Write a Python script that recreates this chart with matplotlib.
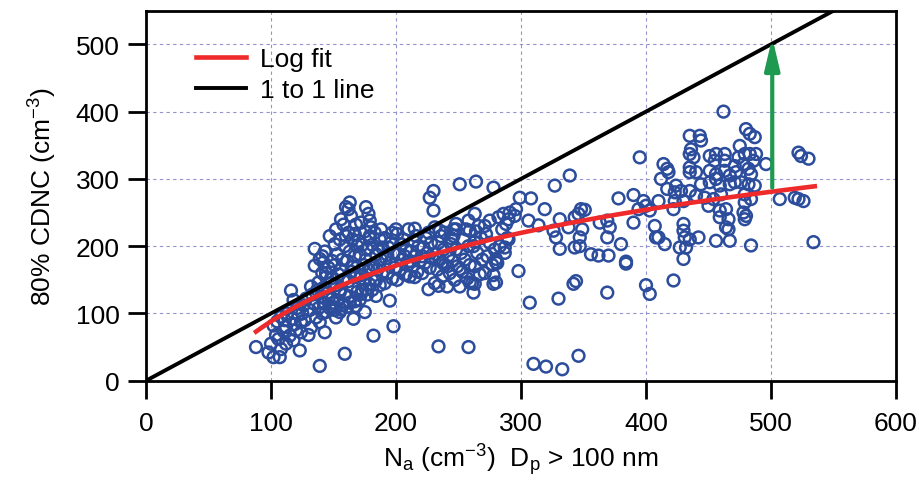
import numpy as np
import matplotlib
matplotlib.use("Agg")
import matplotlib.pyplot as plt

plt.rcParams['font.family'] = ['Liberation Sans', 'DejaVu Sans']
plt.rcParams['mathtext.fontset'] = 'custom'
plt.rcParams['mathtext.rm'] = 'Liberation Sans'
plt.rcParams['mathtext.it'] = 'Liberation Sans:italic'

# ---- data: (Na, CDNC) pairs, grouped by region ----
pts_low = [(88, 50), (98, 42), (102, 35), (107, 35), (108, 47), (112, 55), (123, 45), (139, 22),
           (159, 40), (143, 72), (166, 92), (182, 67), (198, 81), (234, 51), (195, 119), (116, 134),
           (135, 196), (102, 82), (110, 74), (115, 67), (106, 62), (119, 84), (124, 87), (124, 72),
           (132, 79), (139, 87), (136, 94), (142, 116), (150, 116), (155, 131), (144, 102), (152, 94),
           (156, 106), (155, 102), (163, 116), (168, 111), (175, 102), (172, 129), (167, 154),
           (138, 146), (144, 154), (135, 171), (142, 176), (180, 168), (176, 136), (184, 149),
           (184, 126), (100, 55), (104, 68), (105, 88), (108, 95), (112, 80), (113, 100), (117, 92),
           (118, 60), (121, 108), (122, 98), (126, 112), (127, 90), (128, 122), (130, 68), (131, 105),
           (133, 128), (134, 115), (137, 135), (138, 108), (140, 125), (141, 160), (143, 138),
           (146, 122), (148, 145), (149, 110), (118, 120), (125, 100), (132, 140), (111, 90), (120, 75)]

pts_upper = [(163, 265), (160, 258), (162, 255), (176, 258), (156, 240), (179, 238), (180, 228),
             (147, 215), (139, 181), (151, 203), (160, 215), (167, 218), (170, 208), (179, 215)]

pts_core_a = [(141, 100), (147, 108), (143, 115), (149, 122), (145, 130), (142, 138), (148, 152),
              (144, 160), (146, 168), (141, 185), (149, 178), (143, 192),
              (151, 105), (157, 112), (153, 120), (159, 128), (155, 135), (152, 142), (158, 150),
              (154, 158), (156, 165), (151, 172), (157, 180), (153, 188), (159, 200), (155, 210),
              (152, 225), (158, 232),
              (161, 110), (167, 118), (163, 125), (169, 132), (165, 140), (162, 148), (168, 155),
              (164, 162), (166, 170), (161, 178), (167, 185), (163, 192), (169, 200), (165, 210),
              (162, 220), (168, 232), (164, 245),
              (171, 120), (177, 128), (173, 135), (179, 143), (175, 150), (172, 157), (178, 165),
              (174, 172), (176, 180), (171, 188), (177, 195), (173, 202), (179, 212), (175, 222),
              (172, 235), (178, 248)]

pts_core_b = [(181, 135), (187, 142), (183, 150), (189, 158), (185, 165), (182, 172), (188, 180),
              (184, 188), (186, 195), (181, 202), (187, 210), (183, 220), (189, 198),
              (191, 145), (197, 152), (193, 160), (199, 168), (195, 175), (192, 182), (198, 190),
              (194, 198), (196, 205), (191, 212), (197, 220), (193, 187),
              (201, 150), (207, 158), (203, 165), (209, 172), (205, 180), (202, 188), (208, 195),
              (204, 203), (206, 210), (201, 218), (207, 185),
              (211, 155), (217, 162), (213, 170), (219, 178), (215, 185), (212, 192), (218, 200),
              (214, 208), (216, 215), (211, 178),
              (221, 160), (227, 168), (223, 175), (229, 182), (225, 190), (222, 198), (228, 205),
              (224, 212), (226, 220), (221, 185)]

pts_core_c = [(231, 145), (237, 155), (233, 165), (239, 172), (235, 180), (232, 188), (238, 195),
              (234, 205), (236, 215), (231, 228), (237, 176),
              (241, 140), (247, 150), (243, 160), (249, 170), (245, 178), (242, 186), (248, 195),
              (244, 212), (246, 225), (241, 170),
              (251, 140), (257, 152), (253, 162), (259, 172), (255, 180), (252, 190), (258, 200),
              (254, 210), (256, 225), (251, 166),
              (261, 145), (267, 158), (263, 170), (269, 180), (265, 190), (262, 200), (268, 212),
              (264, 222),
              (271, 160), (277, 172), (273, 185), (279, 195), (275, 205), (272, 218),
              (281, 175), (287, 190), (283, 200), (289, 212), (285, 225)]

pts_mid = [(251, 292), (264, 296), (278, 287), (230, 282), (227, 272), (230, 253), (200, 225),
           (188, 225), (210, 225), (215, 226), (239, 220), (248, 233), (248, 225), (258, 238),
           (263, 248), (266, 230), (275, 238), (282, 243), (286, 248), (291, 250), (288, 233),
           (287, 198), (280, 181), (271, 230), (259, 223), (246, 215), (235, 223), (263, 206),
           (244, 203), (226, 136), (234, 141), (262, 131), (263, 144), (278, 144), (280, 176),
           (215, 154), (208, 158), (259, 146), (280, 146), (278, 157), (298, 163), (258, 50)]

pts_right = [(395, 332), (339, 305), (327, 290), (308, 271), (299, 272), (319, 255), (296, 255),
             (290, 240), (306, 238), (314, 231), (331, 240), (326, 223), (328, 213), (331, 196),
             (343, 243), (348, 255), (351, 254), (346, 248), (338, 228), (349, 225), (347, 213),
             (343, 198), (347, 200), (356, 188), (362, 186), (370, 186), (384, 177), (369, 213),
             (380, 203), (363, 235), (371, 228), (369, 238), (378, 271), (390, 276), (390, 235),
             (398, 267), (400, 260), (394, 255), (403, 253), (407, 230), (408, 213), (295, 245),
             (290, 210), (307, 116), (330, 122), (342, 144), (344, 148), (369, 131), (400, 142),
             (403, 129), (384, 174), (310, 25), (320, 21), (333, 17), (346, 37), (422, 149),
             (430, 181)]

pts_far = [(462, 400), (435, 364), (443, 364), (444, 357), (480, 374), (483, 367), (487, 362),
           (475, 349), (436, 344), (438, 332), (435, 337), (451, 334), (456, 337), (463, 337),
           (463, 327), (455, 327), (474, 332), (479, 337), (483, 337), (486, 327), (488, 337),
           (471, 319), (478, 322), (482, 315), (484, 307), (472, 310), (467, 305), (496, 322),
           (522, 339), (524, 334), (530, 330), (414, 322), (417, 315), (418, 310), (435, 310),
           (440, 310), (435, 317), (451, 312), (456, 307), (463, 312), (412, 300), (417, 285),
           (424, 290), (423, 280), (428, 282), (435, 282), (444, 292), (451, 295), (456, 300),
           (459, 290), (467, 292), (471, 295), (476, 295), (482, 292), (487, 290), (479, 277),
           (484, 270), (479, 265), (460, 277), (454, 270), (447, 272), (440, 275), (430, 267),
           (423, 267), (410, 267), (422, 255), (450, 260), (459, 253), (459, 243), (464, 255),
           (466, 240), (464, 228), (466, 225), (478, 250), (480, 245), (479, 240), (467, 208),
           (456, 208), (430, 233), (430, 223), (431, 213), (435, 210), (442, 213), (427, 198),
           (432, 198), (410, 213), (415, 203), (484, 201), (507, 270), (519, 272), (522, 270),
           (526, 267), (534, 206)]

# log fit parameters (CDNC = a + b ln Na) and the 1:1 line extent
fit_a, fit_b = -463.0, 119.7
fit_na_min, fit_na_max = 88, 535
one_to_one = [0, 550]
arrow_na, arrow_from, arrow_to = 501, 287, 510

x_ticks = [0, 100, 200, 300, 400, 500, 600]
y_ticks = [0, 100, 200, 300, 400, 500]

groups = [pts_low, pts_upper, pts_core_a, pts_core_b, pts_core_c, pts_mid, pts_right, pts_far]
na = np.array([p[0] for g in groups for p in g], dtype=float)
cdnc = np.array([p[1] for g in groups for p in g], dtype=float)

FS = 19

fig = plt.figure(figsize=(9.2, 4.81), dpi=100)
ax = fig.add_axes([146 / 920, 1 - 381.7 / 481, 750 / 920, 370 / 481])
ax.set_xlim(0, 600)
ax.set_ylim(0, 550)
ax.set_xticks(x_ticks)
ax.set_yticks(y_ticks)
ax.grid(True, color='#9393d0', linestyle=(0, (3, 3)), linewidth=0.8)
ax.set_axisbelow(True)

ax.scatter(na, cdnc, s=72, facecolors='none', edgecolors='#2c4c9c', linewidths=1.8, zorder=3)

xf = np.linspace(fit_na_min, fit_na_max, 200)
ax.plot(xf, fit_a + fit_b * np.log(xf), color='#ee2a2a', lw=3.3, zorder=4, label='Log fit')
ax.plot(one_to_one, one_to_one, color='black', lw=2.8, zorder=4, label='1 to 1 line')

ax.annotate('', xy=(arrow_na, arrow_to), xytext=(arrow_na, arrow_from),
            arrowprops=dict(arrowstyle='-|>,head_length=1.9,head_width=0.45',
                            color='#1e9a50', lw=3, shrinkA=0, shrinkB=0), zorder=5)

for s in ax.spines.values():
    s.set_linewidth(2)
ax.tick_params(direction='out', length=13, width=2, labelsize=FS)
ax.tick_params(axis='x', pad=9)
ax.tick_params(axis='y', pad=6)

ax.set_xlabel('N$_\\mathrm{a}$ (cm$^{-3}$)  D$_\\mathrm{p}$ > 100 nm', fontsize=FS, labelpad=4)
ax.set_ylabel('80% CDNC (cm$^{-3}$)', fontsize=FS, labelpad=12)

ax.legend(loc='upper left', bbox_to_anchor=(0.053, 0.93), borderaxespad=0, frameon=False,
          fontsize=FS, handlelength=1.9, handletextpad=0.5, labelspacing=0.25)

fig.savefig('out.png', dpi=100)
